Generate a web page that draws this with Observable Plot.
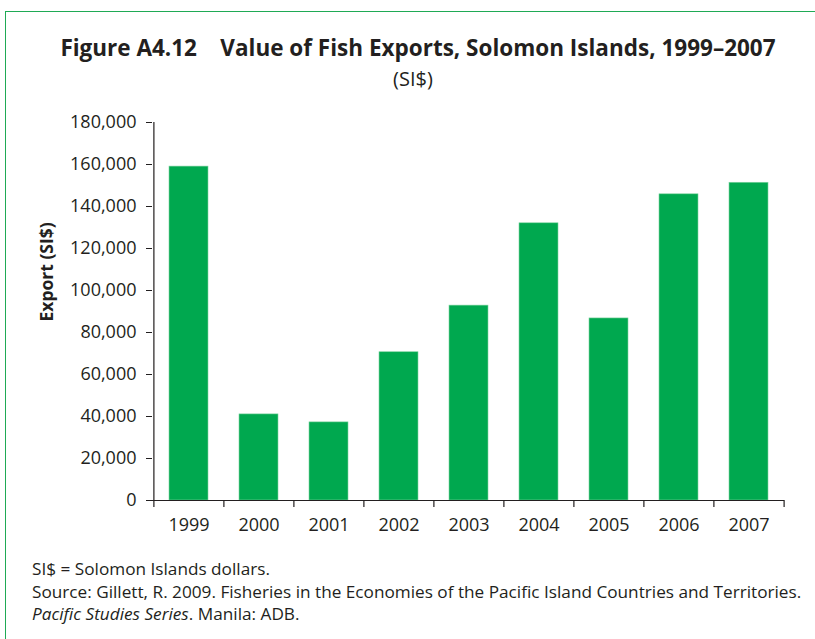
<!DOCTYPE html>
<html>
<head>
<meta charset="utf-8">
<script src="https://cdn.jsdelivr.net/npm/d3@7"></script>
<script src="https://cdn.jsdelivr.net/npm/@observablehq/plot@0.6"></script>
<style>
  html, body { margin: 0; padding: 0; background: #fff; width: 815px; height: 639px; overflow: hidden; }
  body { font-family: "Open Sans", "Noto Sans", sans-serif; color: #231f20; position: relative; }
  #border { position: absolute; left: 5px; top: 11px; width: 900px; height: 800px; border: 1.5px solid #1faa55; box-sizing: border-box; }
  #title { position: absolute; left: 0; width: 836px; top: 32px; text-align: center; font-weight: bold; font-size: 22.5px; white-space: pre; }
  #subtitle { position: absolute; left: 0; width: 826px; top: 65px; text-align: center; font-size: 20px; }
  #chart { position: absolute; left: 0; top: 100px; }
  #notes { position: absolute; left: 32px; top: 558px; font-size: 17.2px; line-height: 22.5px; }
</style>
</head>
<body>
<div id="border"></div>
<div id="title">Figure A4.12    Value of Fish Exports, Solomon Islands, 1999–2007</div>
<div id="subtitle">(SI$)</div>
<div id="chart"></div>
<div id="notes">
  <div>SI$ = Solomon Islands dollars.</div>
  <div>Source: Gillett, R. 2009. Fisheries in the Economies of the Pacific Island Countries and Territories.</div>
  <div><i>Pacific Studies Series</i>. Manila: ADB.</div>
</div>
<script>
const years = ["1999", "2000", "2001", "2002", "2003", "2004", "2005", "2006", "2007"];
const exportsValue = [159000, 41000, 37200, 70600, 92800, 132000, 86700, 145800, 151300];
const yTicks = [0, 20000, 40000, 60000, 80000, 100000, 120000, 140000, 160000, 180000];

const data = years.map((y, i) => ({year: y, value: exportsValue[i]}));

const W = 815, H = 450;
const mL = 152, mR = 31, mT = 22, mB = 50;
const step = (W - mL - mR) / years.length;
const half = step / 2;
const tickUnits = 7 * 180000 / (H - mT - mB);

const plot = Plot.plot({
  width: W,
  height: H,
  marginLeft: mL,
  marginRight: mR,
  marginTop: mT,
  marginBottom: mB,
  style: { fontFamily: "'Open Sans', 'Noto Sans', sans-serif", fontSize: "18px", color: "#231f20", background: "transparent" },
  x: { domain: years, paddingInner: 0.45, paddingOuter: 0.225, label: null },
  y: { domain: [0, 180000], label: null },
  marks: [
    Plot.barY(data, { x: "year", y: "value", fill: "#00a84f", stroke: "#7fd3a0", strokeWidth: 0.6 }),
    Plot.axisY({ ticks: yTicks, tickSize: 6, tickPadding: 10, tickFormat: d3.format(","), stroke: "#231f20", fontSize: 18 }),
    Plot.axisX({ tickSize: 0, tickPadding: 18, fontSize: 18 }),
    Plot.ruleX(years, { x: d => d, dx: -half, y1: 0, y2: -tickUnits, stroke: "#231f20", strokeWidth: 1.2, clip: false }),
    Plot.ruleX([years[years.length - 1]], { x: d => d, dx: half, y1: 0, y2: -tickUnits, stroke: "#231f20", strokeWidth: 1.2, clip: false }),
    Plot.ruleX([years[0]], { x: d => d, dx: -half, y1: 0, y2: 180000, stroke: "#231f20", strokeWidth: 1.2 }),
    Plot.ruleY([0], { stroke: "#231f20", strokeWidth: 1.2 }),
    Plot.text(["Export (SI$)"], { frameAnchor: "left", dx: -105, dy: 10, rotate: -90, fontWeight: "bold", fontSize: 17.5, fill: "#231f20" })
  ]
});
document.getElementById("chart").appendChild(plot);
</script>
</body>
</html>
